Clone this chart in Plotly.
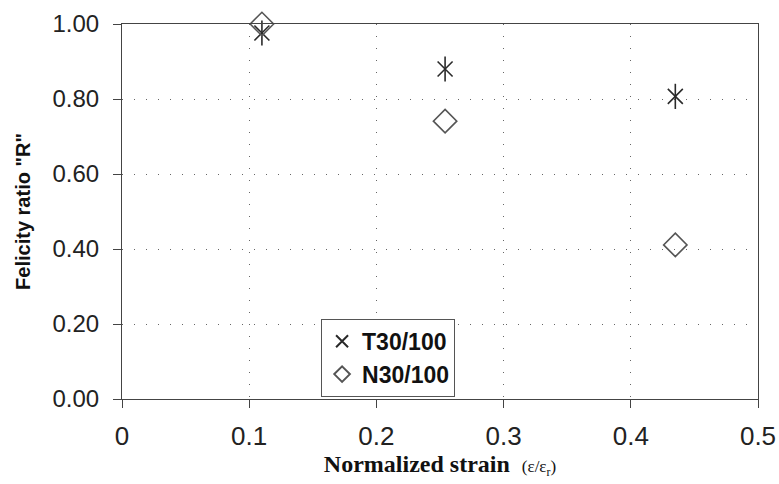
import plotly.graph_objects as go

# Data
strain = [0.11, 0.254, 0.435]
t30_100 = [0.976, 0.88, 0.807]
n30_100 = [1.00, 0.741, 0.411]
x_ticks = [0, 0.1, 0.2, 0.3, 0.4, 0.5]
x_tick_labels = ["0", "0.1", "0.2", "0.3", "0.4", "0.5"]
y_ticks = [0.0, 0.2, 0.4, 0.6, 0.8, 1.0]
y_tick_labels = ["0.00", "0.20", "0.40", "0.60", "0.80", "1.00"]

STAR = "#2a2a2a"
DIAM = "#555555"

fig = go.Figure()

# T30/100 as a six-armed star: X + vertical bar
fig.add_trace(go.Scatter(
    x=strain, y=t30_100, mode="markers", name="T30/100",
    legendgroup="t", showlegend=True,
    marker=dict(symbol="x-thin-open", size=15, color=STAR, line=dict(color=STAR, width=1.6)),
    cliponaxis=False,
))
fig.add_trace(go.Scatter(
    x=strain, y=t30_100, mode="markers", name="T30/100",
    legendgroup="t", showlegend=False,
    marker=dict(symbol="line-ns-open", size=18, color=STAR, line=dict(color=STAR, width=1.6)),
    cliponaxis=False,
))
fig.add_trace(go.Scatter(
    x=strain, y=n30_100, mode="markers", name="N30/100",
    marker=dict(symbol="diamond-open", size=18, color=DIAM, line=dict(color=DIAM, width=1.6)),
    cliponaxis=False,
))

fig.update_layout(
    width=779, height=484,
    margin=dict(l=122, r=21, t=24, b=85, autoexpand=False),
    paper_bgcolor="white", plot_bgcolor="white",
    font=dict(family="Liberation Sans, Arial", color="#222222"),
    showlegend=True,
    legend=dict(
        x=0.313, y=0.214, xanchor="left", yanchor="top",
        bgcolor="white", bordercolor="#555555", borderwidth=1,
        font=dict(family="Liberation Sans, Arial", size=23, color="#111111", weight="bold"),
        itemsizing="constant", itemwidth=30, tracegroupgap=0,
    ),
    xaxis=dict(
        range=[0, 0.5], tickvals=x_ticks, ticktext=x_tick_labels,
        showline=True, linecolor="#444444", linewidth=1, mirror=True,
        ticks="outside", ticklen=8, tickcolor="#444444",
        showgrid=True, gridcolor="#666666", gridwidth=1, griddash="1px,11px",
        zeroline=False, ticklabelstandoff=6, ticklabeloverflow="allow",
        automargin=False,
        tickfont=dict(family="Liberation Sans, Arial", size=26, color="#222222"),
        title=dict(
            text="<b>Normalized strain</b>  <span style='font-size:17px'>(ε/ε<sub>r</sub>)</span>",
            font=dict(family="Liberation Serif, Times New Roman", size=24, color="#111111"),
            standoff=2,
        ),
    ),
    yaxis=dict(
        range=[0, 1.0], tickvals=y_ticks, ticktext=y_tick_labels,
        showline=True, linecolor="#444444", linewidth=1, mirror=True,
        ticks="outside", ticklen=8, tickcolor="#444444",
        showgrid=True, gridcolor="#666666", gridwidth=1, griddash="1px,11px",
        zeroline=False, ticklabelstandoff=9, ticklabeloverflow="allow",
        automargin=False,
        tickfont=dict(family="Liberation Sans, Arial", size=24, color="#222222"),
        title=dict(
            text="<b>Felicity ratio \"R\"</b>",
            font=dict(family="Liberation Sans, Arial", size=20, color="#111111"),
            standoff=16,
        ),
    ),
)

fig.write_html(
    "out.html",
    config={"displayModeBar": False},
    post_script="document.body.style.margin='0';",
)
